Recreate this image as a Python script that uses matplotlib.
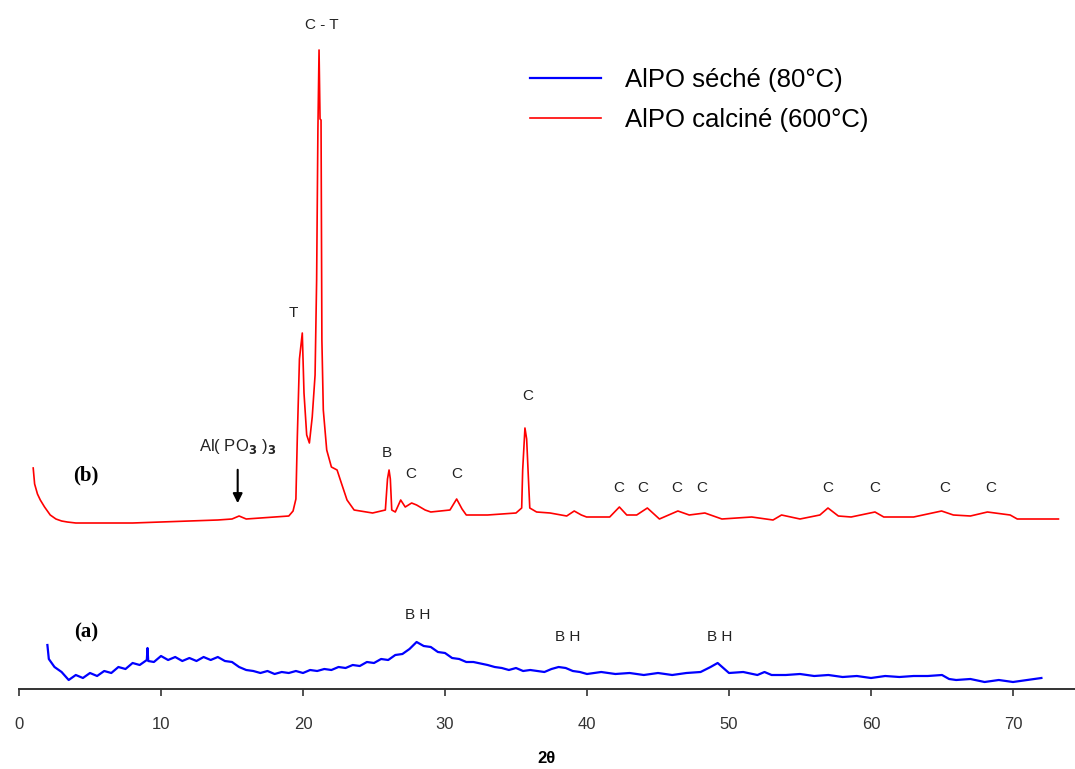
import numpy as np
import matplotlib
matplotlib.use("Agg")
import matplotlib.pyplot as plt

plt.rcParams['font.family'] = ['Liberation Sans', 'DejaVu Sans']

# (a) AlPO dried at 80 C  -- (2theta, intensity)
blue_pts = [(2.0, 44), (2.1, 30), (2.5, 22), (3.0, 17), (3.5, 9), (4.0, 14), (4.5, 11),
            (5.0, 16), (5.5, 13), (6.0, 18), (6.5, 16), (7.0, 22), (7.5, 20), (8.0, 26),
            (8.5, 24), (9.0, 29), (9.05, 41), (9.1, 28), (9.5, 27), (10.0, 33), (10.5, 29),
            (11.0, 32), (11.5, 28), (12.0, 31), (12.5, 28), (13.0, 32), (13.5, 29),
            (14.0, 32), (14.5, 28), (15.0, 27), (15.5, 22), (16.0, 19), (16.5, 18),
            (17.0, 16), (17.5, 18), (18.0, 15), (18.5, 17), (19.0, 16), (19.5, 18),
            (20.0, 16), (20.5, 19), (21.0, 18), (21.5, 20), (22.0, 19), (22.5, 22),
            (23.0, 21), (23.5, 24), (24.0, 23), (24.5, 27), (25.0, 26), (25.5, 30),
            (26.0, 29), (26.5, 34), (27.0, 35), (27.5, 40), (28.0, 47), (28.5, 43),
            (29.0, 42), (29.5, 37), (30.0, 36), (30.5, 31), (31.0, 30), (31.5, 27),
            (32.0, 27), (33.0, 24), (33.5, 22), (34.0, 21), (34.5, 19), (35.0, 21),
            (35.5, 18), (36.0, 19), (37.0, 17), (37.5, 20), (38.0, 22), (38.5, 21),
            (39.0, 18), (39.5, 17), (40.0, 15), (41.0, 17), (42.0, 15), (43.0, 16),
            (44.0, 14), (45.0, 16), (46.0, 14), (47.0, 16), (48.0, 17), (48.7, 22),
            (49.2, 26), (49.6, 21), (50.0, 16), (51.0, 17), (52.0, 14), (52.5, 17),
            (53.0, 14), (54.0, 14), (55.0, 15), (56.0, 13), (57.0, 14), (58.0, 12),
            (59.0, 13), (60.0, 11), (61.0, 13), (62.0, 12), (63.0, 13), (64.0, 13),
            (65.0, 14), (65.5, 10), (66.0, 9), (67.0, 10), (68.0, 7), (69.0, 9),
            (70.0, 7), (71.0, 9), (72.0, 11)]
blue_x, blue_y = zip(*blue_pts)

# (b) AlPO calcined at 600 C
red_x = [1.0, 1.1, 1.3, 1.5, 1.8, 2.0, 2.2, 2.6, 3.0, 3.4, 4.0, 6.0, 8.0, 10.0, 12.0,
         14.0, 15.0, 15.5, 16.0, 17.0, 18.0, 19.0, 19.3, 19.5, 19.6, 19.75, 19.95,
         20.07, 20.26, 20.45, 20.65, 20.85, 20.96, 21.05, 21.13, 21.2, 21.27, 21.33,
         21.43, 21.67, 22.0, 22.4, 22.7, 23.1, 23.6, 24.9, 25.8, 25.95, 26.06, 26.15,
         26.25, 26.5, 26.88, 27.2, 27.65, 28.0, 28.6, 29.0, 30.35, 30.82, 31.2, 31.5,
         33.0, 35.0, 35.4, 35.47, 35.63, 35.75, 35.87, 35.97, 36.45, 37.4, 38.57, 39.1,
         39.6, 39.97, 41.6, 42.28, 42.8, 43.5, 44.25, 45.1, 46.4, 47.2, 48.3, 49.5,
         51.6, 53.1, 53.7, 55.0, 56.4, 56.97, 57.7, 58.6, 60.28, 60.9, 63.0, 64.97,
         65.8, 67.0, 68.2, 69.8, 70.3, 73.2]
red_y = [221, 205, 195, 189, 182, 178, 174, 170, 168, 167, 166, 166, 166, 167, 168,
         169, 170, 173, 170, 171, 172, 173, 178, 190, 252, 330, 356,
         296, 254, 246, 272, 314, 409, 560, 639, 570, 569, 349,
         279, 239, 222, 219, 206, 189, 179, 176, 179, 210, 219, 210,
         179, 177, 189, 182, 186, 184, 179, 177, 179, 190, 180, 174,
         174, 176, 181, 219, 261, 250, 212, 181, 177, 176, 173, 178,
         174, 172, 172, 182, 174, 174, 181, 170, 178, 174, 176, 170,
         172, 169, 174, 170, 174, 181, 173, 172, 177, 172, 172, 178,
         174, 173, 177, 174, 170, 170]

# phase labels on (b)
peak_labels = ['C - T', 'T', 'B', 'C', 'C', 'C', 'C', 'C', 'C', 'C', 'C', 'C', 'C', 'C']
peak_x = [21.3, 19.3, 25.9, 27.6, 30.8, 35.8, 42.25, 43.94, 46.34, 48.1, 56.97, 60.28, 65.2, 68.45]
peak_y = [664, 376, 236, 215, 215, 293, 201, 201, 201, 201, 201, 201, 201, 201]

# labels on (a)
bh_x = [28.1, 38.66, 49.37]
bh_y = [74, 52, 52]

xticks = [0, 10, 20, 30, 40, 50, 60, 70]

fig = plt.figure(figsize=(10.75, 7.69), dpi=100)
ax = fig.add_axes([19/1075, 80/769, 1 - 19/1075, 689/769])

ax.plot(blue_x, blue_y, color='#0000ff', lw=1.6, label='AlPO séché (80°C)')
ax.plot(red_x, red_y, color='#ff0000', lw=1.2, label='AlPO calciné (600°C)')

for s, x, y in zip(peak_labels, peak_x, peak_y):
    ax.text(x, y, s, ha='center', va='center', fontsize=11, color='#222222')
for x, y in zip(bh_x, bh_y):
    ax.text(x, y, 'B H', ha='center', va='center', fontsize=11, color='#222222')

ax.text(4.7, 214, '(b)', ha='center', va='center', fontsize=15, fontweight='bold',
        family='Liberation Serif')
ax.text(4.7, 57, '(a)', ha='center', va='center', fontsize=15, fontweight='bold',
        family='Liberation Serif')

ax.annotate('', xy=(15.4, 183), xytext=(15.4, 222),
            arrowprops=dict(arrowstyle='-|>', color='black', lw=1.5, mutation_scale=14))
ax.text(15.4, 242, r'Al( PO$_\mathbf{3}$ )$_\mathbf{3}$', ha='center', va='center',
        fontsize=12, color='#222222')

ax.set_xlim(0, (1075 - 19) / 14.2)
ax.set_ylim(0, 689)
ax.set_xticks(xticks)
ax.set_yticks([])
for sp in ['left', 'right', 'top']:
    ax.spines[sp].set_visible(False)
ax.spines['bottom'].set_linewidth(1.4)
ax.spines['bottom'].set_color('#333333')
ax.tick_params(axis='x', direction='out', length=5, width=1.2, pad=15,
               labelsize=12, colors='#333333')
ax.set_xlabel('2θ', fontsize=12, fontweight='bold', labelpad=14)

ax.legend(loc='upper left', bbox_to_anchor=(507/1075, 1 - 45/769),
          bbox_transform=fig.transFigure, frameon=False, fontsize=18.5,
          handlelength=2.75, handletextpad=0.95, labelspacing=0.62)

fig.savefig('out.png', dpi=100)
